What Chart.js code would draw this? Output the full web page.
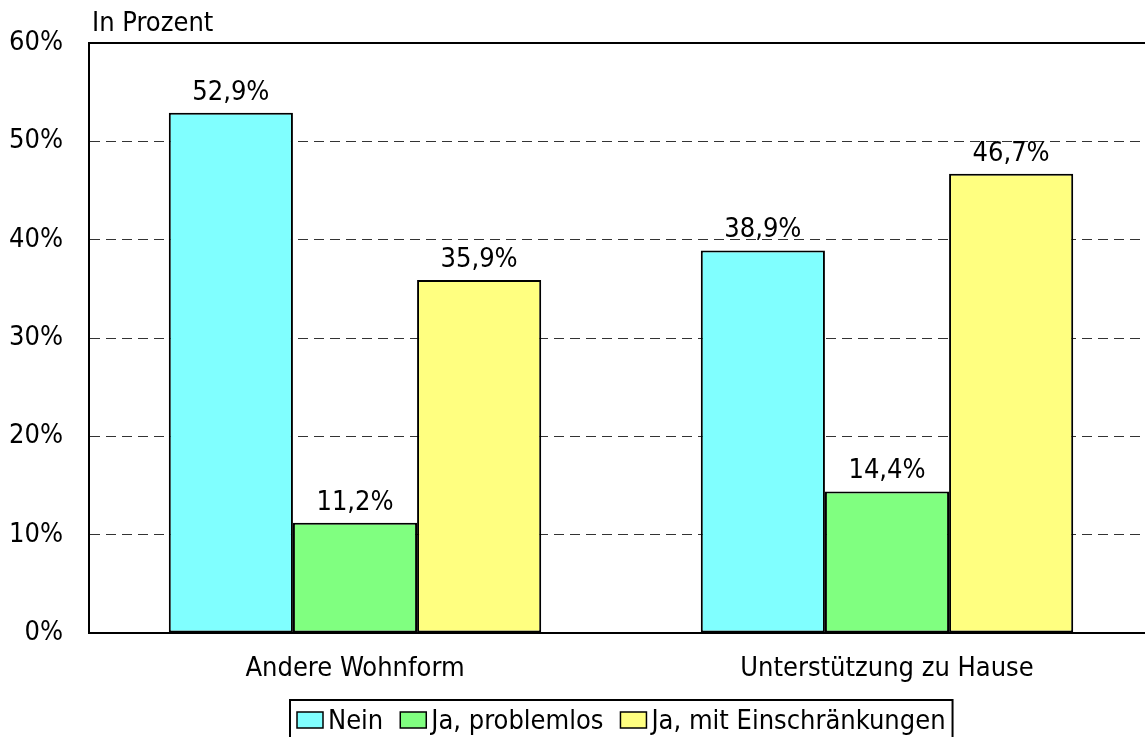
<!DOCTYPE html>
<html>
<head>
<meta charset="utf-8">
<script src="https://cdn.jsdelivr.net/npm/chart.js@4/dist/chart.umd.min.js"></script>
<style>
  html, body { margin: 0; padding: 0; background: #fff; overflow: hidden; }
  #chart { display: block; }
</style>
</head>
<body>
<canvas id="chart" width="1163" height="737"></canvas>
<script>
const categories = ["Andere Wohnform", "Unterstützung zu Hause"];
const seriesNames = ["Nein", "Ja, problemlos", "Ja, mit Einschränkungen"];
const neinValues = [52.9, 38.9];
const problemlosValues = [11.2, 14.4];
const einschraenkungValues = [35.9, 46.7];
const tickValues = [0, 10, 20, 30, 40, 50, 60];
const axisTitle = "In Prozent";

const FONT = "'DejaVu Sans Condensed', 'DejaVu Sans', sans-serif";
const FSIZE = 27;
const colors = ["#80ffff", "#80ff80", "#ffff80"];

const fmt = (v) => v.toFixed(1).replace(".", ",") + "%";

// top frame line, axis title, value labels and the boxed legend
const extras = {
  id: "extras",
  afterDatasetsDraw(chart) {
    const { ctx, chartArea } = chart;
    ctx.save();
    ctx.strokeStyle = "#000";
    ctx.lineWidth = 2;
    ctx.beginPath();
    ctx.moveTo(chartArea.left, chartArea.top);
    ctx.lineTo(chartArea.right, chartArea.top);
    ctx.stroke();

    ctx.fillStyle = "#000";
    ctx.font = FSIZE + "px " + FONT;
    ctx.textAlign = "left";
    ctx.textBaseline = "alphabetic";
    ctx.fillText(axisTitle, chartArea.left + 3, 31);

    ctx.textAlign = "center";
    chart.data.datasets.forEach((ds, i) => {
      chart.getDatasetMeta(i).data.forEach((bar, j) => {
        ctx.fillText(fmt(ds.data[j]), bar.x, bar.y - 13);
      });
    });

    // legend
    const sq = 26, sqGap = 5, itemGap = 17, pad = 7;
    const widths = seriesNames.map((n) => ctx.measureText(n).width);
    let total = pad * 2;
    widths.forEach((w, i) => { total += sq + sqGap + w + (i < widths.length - 1 ? itemGap : 0); });
    const cx = (chartArea.left + chartArea.right) / 2;
    const boxLeft = Math.round(cx - total / 2);
    const boxTop = 700;
    ctx.lineWidth = 2;
    ctx.strokeRect(boxLeft, boxTop, total, 60);
    let x = boxLeft + pad;
    ctx.textAlign = "left";
    seriesNames.forEach((n, i) => {
      ctx.fillStyle = colors[i];
      ctx.fillRect(x, 712, sq, 16);
      ctx.lineWidth = 1.5;
      ctx.strokeRect(x, 712, sq, 16);
      ctx.fillStyle = "#000";
      ctx.fillText(n, x + sq + sqGap, 729);
      x += sq + sqGap + widths[i] + itemGap;
    });
    ctx.restore();
  }
};

new Chart(document.getElementById("chart"), {
  type: "bar",
  data: {
    labels: categories,
    datasets: [
      { label: seriesNames[0], data: neinValues, backgroundColor: colors[0] },
      { label: seriesNames[1], data: problemlosValues, backgroundColor: colors[1] },
      { label: seriesNames[2], data: einschraenkungValues, backgroundColor: colors[2] }
    ].map((d) => Object.assign(d, {
      borderColor: "#000",
      borderWidth: 2,
      borderSkipped: false,
      categoryPercentage: 0.7,
      barPercentage: 1
    }))
  },
  options: {
    responsive: false,
    animation: false,
    devicePixelRatio: 1,
    layout: { padding: { top: 43, left: 0, right: 10, bottom: 54 } },
    plugins: { legend: { display: false }, tooltip: { enabled: false } },
    scales: {
      x: {
        grid: { display: false, drawTicks: false },
        border: { display: true, color: "#000", width: 2 },
        ticks: { color: "#000", font: { family: FONT, size: FSIZE }, padding: 20, maxRotation: 0 },
        afterFit: (s) => { s.height = 50; }
      },
      y: {
        min: 0,
        max: 60,
        afterBuildTicks: (s) => { s.ticks = tickValues.map((v) => ({ value: v })); },
        grid: {
          drawTicks: false,
          lineWidth: 1,
          color: (c) => (c.tick && (c.tick.value === 0 || c.tick.value === 60)) ? "rgba(0,0,0,0)" : "#333"
        },
        border: { display: true, color: "#000", width: 2, dash: [10, 6] },
        ticks: {
          color: "#000",
          font: { family: FONT, size: FSIZE },
          padding: 26,
          callback: (v) => v + "%"
        },
        afterFit: (s) => { s.width = 89; }
      }
    }
  },
  plugins: [extras]
});
</script>
</body>
</html>
